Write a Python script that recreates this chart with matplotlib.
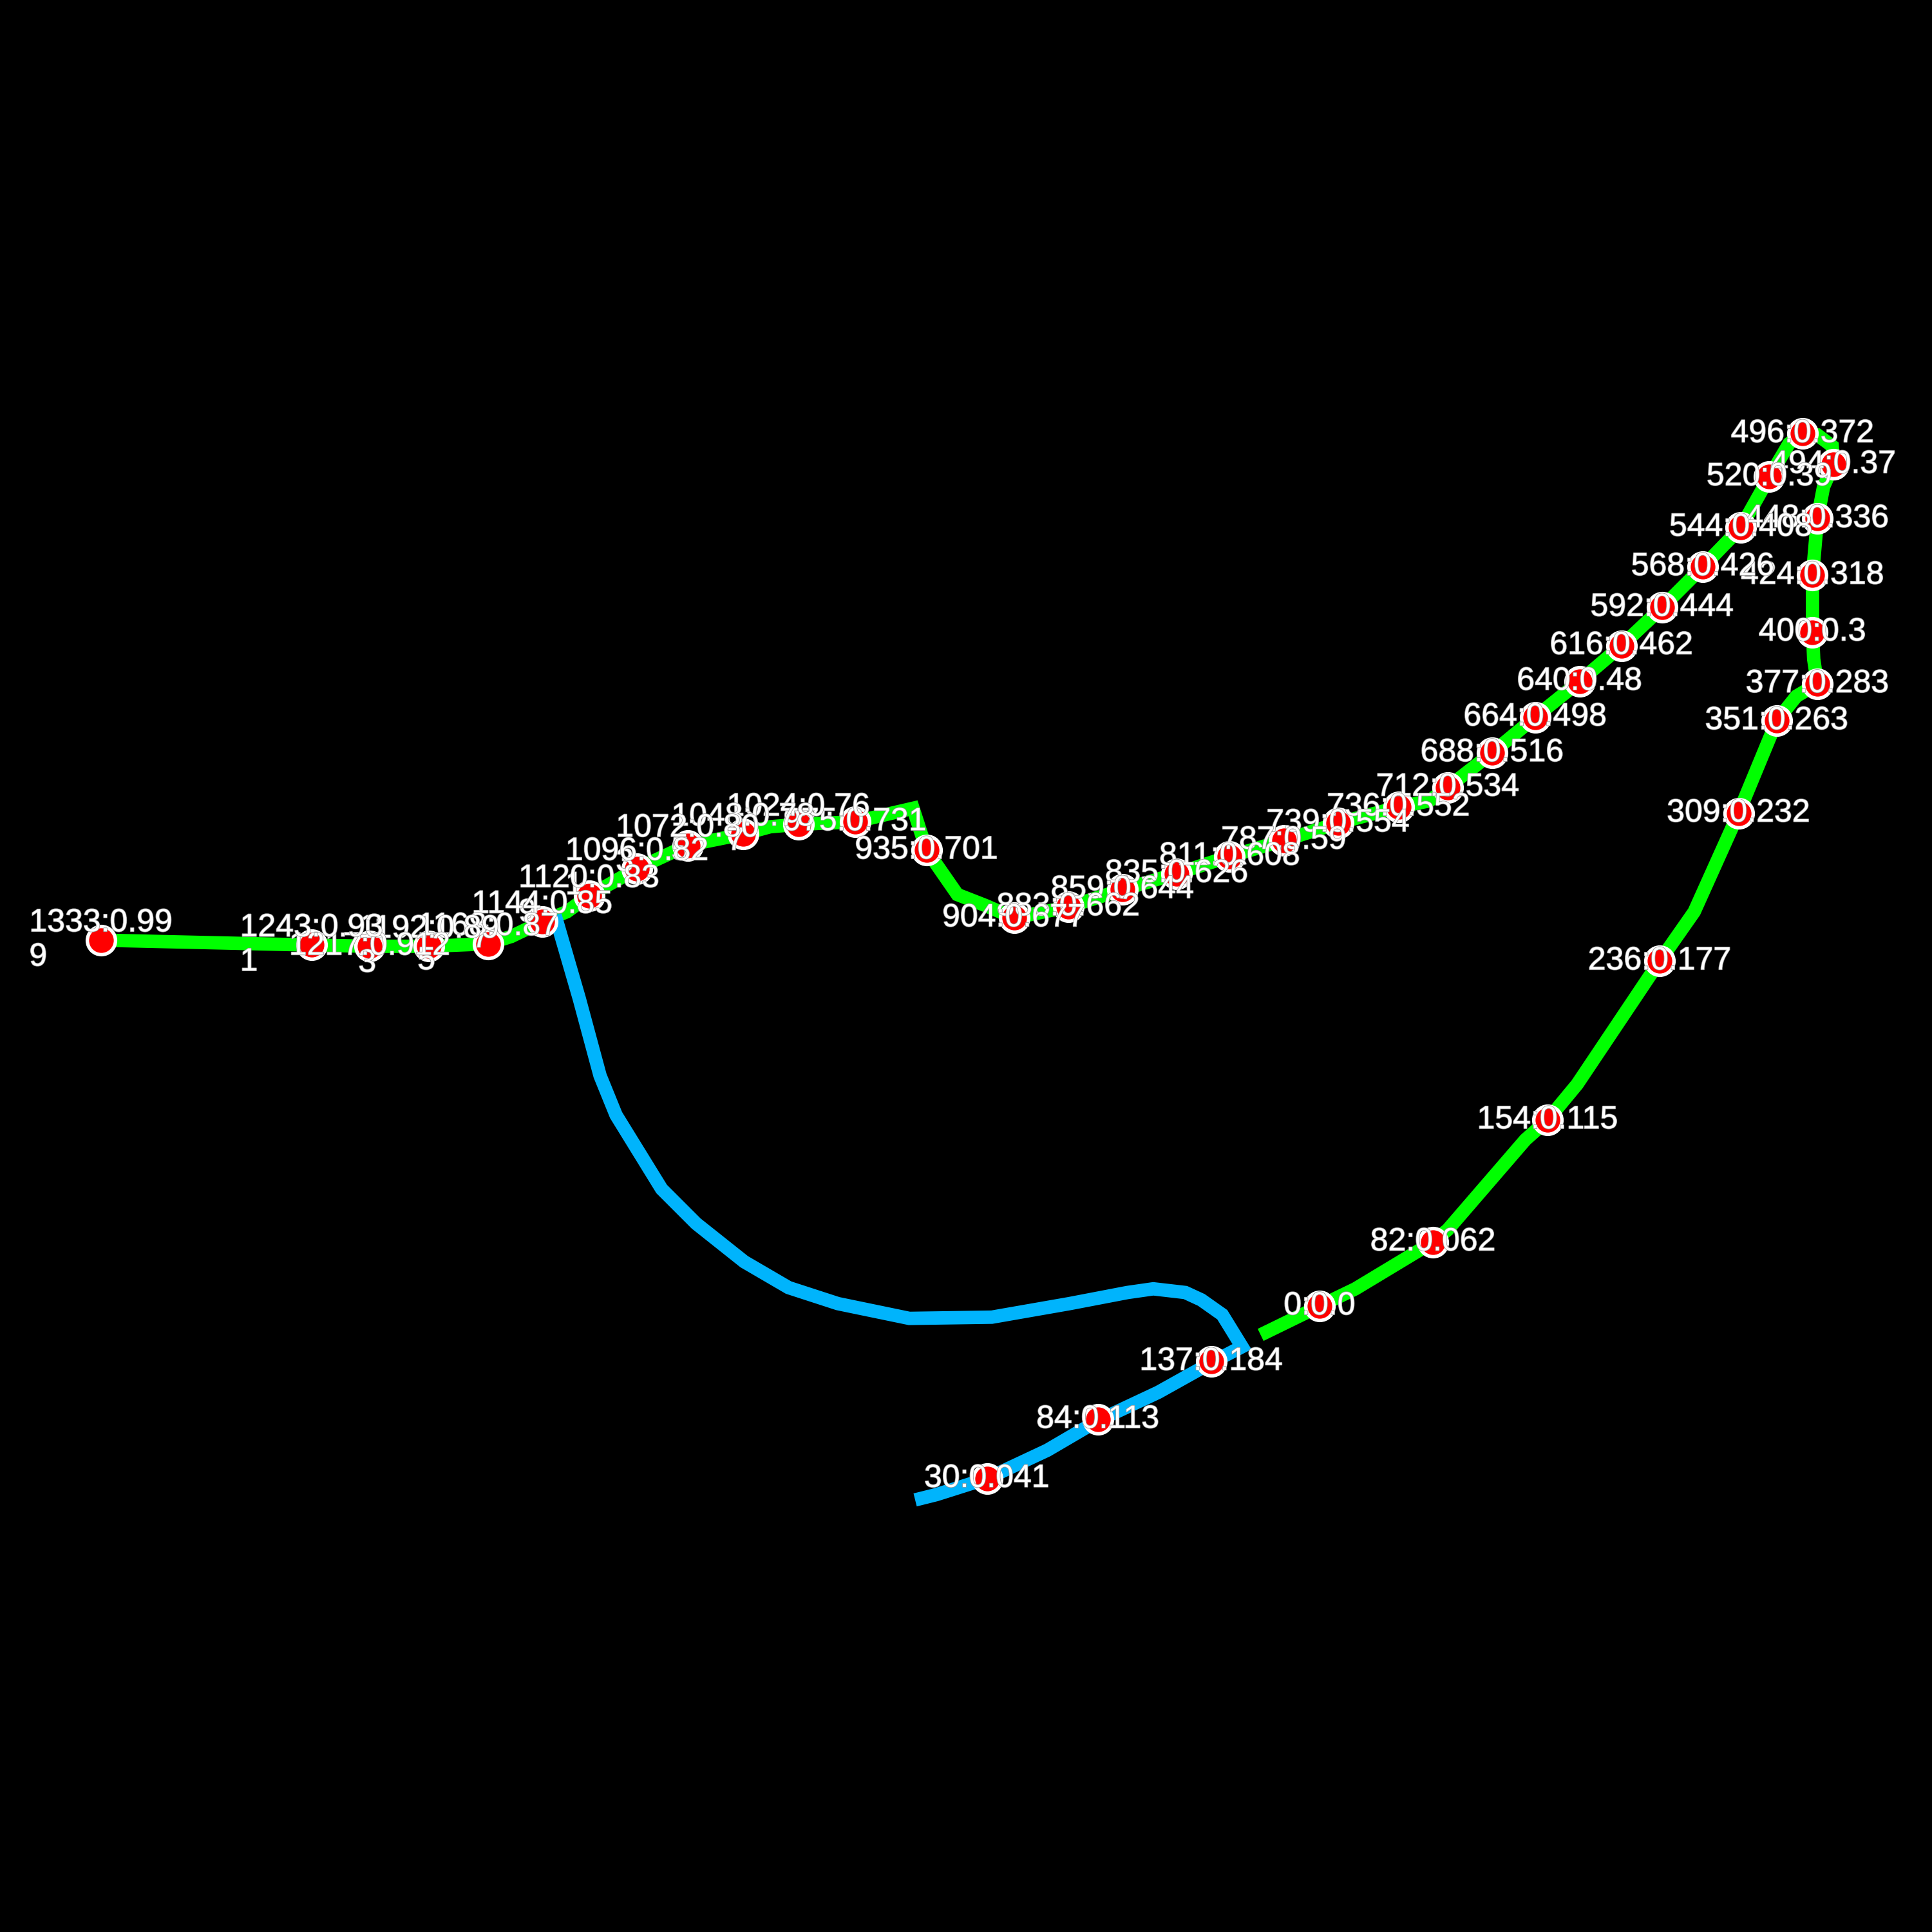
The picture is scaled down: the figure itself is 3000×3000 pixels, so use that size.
import numpy as np
import matplotlib.pyplot as plt
import matplotlib.patheffects as pe

# route geometry (x right, y down)
green_x = [1028, 1071, 1100, 1163, 1175, 1238, 1256, 1280, 1347, 1375, 1411, 1442, 1458, 1475,
           1472, 1471, 1471, 1475, 1480, 1488, 1487, 1475, 1463, 1452, 1436, 1413, 1382, 1349,
           1316, 1282, 1246, 1211, 1175, 1160, 1135, 1086, 1042, 998, 955, 911, 867, 823, 800,
           777, 752, 741, 715, 694, 648, 625, 603, 558, 517, 478, 460, 440, 415, 396, 348, 300,
           253, 82]
green_y = [1081, 1060, 1046, 1008, 998, 925, 909, 880, 780, 740, 660, 585, 565, 555,
           535, 513, 467, 421, 395, 377, 362, 353, 352, 360, 387, 428, 460, 493,
           524, 553, 582, 611, 639, 650, 655, 668, 682, 695, 709, 722, 736, 745, 735,
           726, 690, 656, 662, 667, 669, 671, 677, 686, 705, 727, 740, 748, 760, 766, 768, 768,
           767, 763]

blue_x = [452, 470, 487, 500, 537, 565, 604, 640, 680, 738, 805, 868, 915, 936, 962, 975, 992,
          1008, 983, 940, 891, 850, 801, 760, 748]
blue_y = [748, 810, 873, 905, 965, 993, 1024, 1045, 1058, 1070, 1069, 1058, 1049, 1046, 1049,
          1055, 1067, 1093, 1106, 1130, 1153, 1177, 1200, 1213, 1216]

# stops: distance and fraction of route
stop_x = [1071, 1163, 1256, 1347, 1411, 1442, 1475, 1471, 1471, 1475, 1488, 1463, 1436, 1413,
          1382, 1349, 1316, 1282, 1246, 1211, 1175, 1135, 1086, 1042, 998, 955, 911, 867, 823,
          752, 694, 648, 603, 558, 517, 478, 440, 396, 348, 300, 253, 82,
          801, 891, 983]
stop_y = [1060, 1008, 909, 780, 660, 585, 555, 513, 467, 421, 377, 352, 387, 428,
          460, 493, 524, 553, 582, 611, 639, 655, 668, 682, 695, 709, 722, 736, 745,
          690, 667, 669, 677, 686, 705, 727, 748, 766, 768, 768, 767, 763,
          1200, 1152, 1105]
stop_dist = [0, 82, 154, 236, 309, 351, 377, 400, 424, 448, 494, 496, 520, 544,
             568, 592, 616, 640, 664, 688, 712, 736, 739, 787, 811, 835, 859, 883, 904,
             935, 975, 1024, 1048, 1072, 1096, 1120, 1144, 1168, 1192, 1217, 1243, 1333,
             30, 84, 137]
stop_frac = ["0.0", "0.062", "0.115", "0.177", "0.232", "0.263", "0.283", "0.3", "0.318",
             "0.336", "0.37", "0.372", "0.39", "0.408", "0.426", "0.444", "0.462", "0.48",
             "0.498", "0.516", "0.534", "0.552", "0.554", "0.59", "0.608", "0.626", "0.644",
             "0.662", "0.677", "0.701", "0.731", "0.767", "0.785", "0.803", "0.821", "0.839",
             "0.857", "0.875", "0.893", "0.912", "0.931", "0.999",
             "0.041", "0.113", "0.184"]

fig = plt.figure(figsize=(10, 10), dpi=300, facecolor='black')
ax = fig.add_axes([0, 0, 1, 1])
ax.set_facecolor('black')
ax.set_xlim(0, 1568)
ax.set_ylim(1568, 0)
ax.axis('off')

ax.plot(green_x, green_y, color='#00ff00', lw=5, solid_joinstyle='miter', zorder=2)
ax.plot(blue_x, blue_y, color='#00b4fc', lw=5, solid_joinstyle='miter', zorder=2)
ax.plot(stop_x, stop_y, 'o', ms=10.5, mfc='#ff0000', mec='white', mew=1.3, zorder=3)

outline = [pe.withStroke(linewidth=0.4, foreground='#9a9a9a')]
for x, y, d, f in zip(stop_x, stop_y, stop_dist, stop_frac):
    label = f"{d}:{f}"
    # long labels wrap after 9 characters (the narrow 1217 one fits)
    if len(label) > 9 and label.count('1') < 3:
        label = label[:9] + "\n" + label[9:]
    ax.text(x, y, label, color='white', fontsize=12, family='Liberation Sans',
            ha='center', va='center', multialignment='left', linespacing=1.2,
            path_effects=outline, zorder=4)

fig.savefig('out.png', dpi=300, facecolor='black')
